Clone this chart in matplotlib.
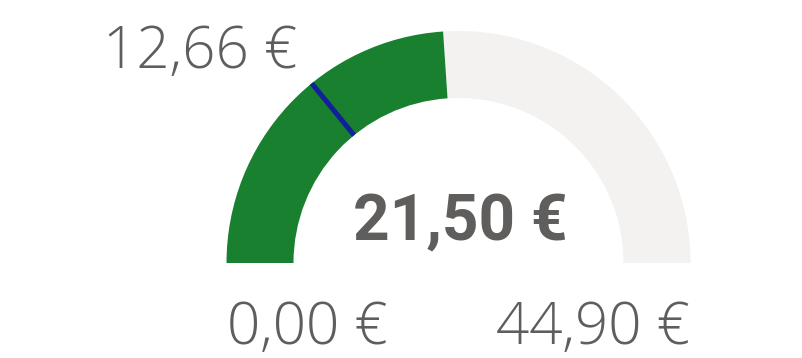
import matplotlib
matplotlib.use("Agg")
import matplotlib.pyplot as plt
from matplotlib.patches import Wedge
import numpy as np

# gauge values
min_value = 0.00
max_value = 44.90
value = 21.50
target = 12.66

min_label = "0,00 €"
max_label = "44,90 €"
value_label = "21,50 €"
target_label = "12,66 €"

green = "#18802F"
track = "#F3F2F1"
blue = "#13209B"
text_color = "#605E5C"

W, H = 803, 358
fig = plt.figure(figsize=(W / 100, H / 100), dpi=100)
ax = fig.add_axes([0, 0, 1, 1])
ax.set_xlim(0, W)
ax.set_ylim(0, H)
ax.axis("off")

cx, cy = 458.5, 95
r_out, r_in = 232, 165

def angle_of(v):
    return 180 - 180 * (v - min_value) / (max_value - min_value)

a_val = angle_of(value)
ax.add_patch(Wedge((cx, cy), r_out, 0, a_val, width=r_out - r_in, color=track, lw=0))
ax.add_patch(Wedge((cx, cy), r_out, a_val, 180, width=r_out - r_in, color=green, lw=0))

# target marker
a_t = np.radians(angle_of(target))
ax.plot([cx + r_in * np.cos(a_t), cx + r_out * np.cos(a_t)],
        [cy + r_in * np.sin(a_t), cy + r_out * np.sin(a_t)],
        color=blue, lw=3.6, solid_capstyle="butt")

label_font = dict(family=["Open Sans", "DejaVu Sans"], fontsize=42,
                  fontweight="light", color=text_color)
ax.text(297, 290, target_label, ha="right", va="baseline", **label_font)
ax.text(227, 14, min_label, ha="left", va="baseline", **label_font)
ax.text(690, 14, max_label, ha="right", va="baseline", **label_font)

ax.text(460.5, 118, value_label, ha="center", va="baseline",
        family=["Roboto", "DejaVu Sans"],
        fontweight="bold", fontsize=46, color=text_color)

fig.savefig("out.png", dpi=100)
